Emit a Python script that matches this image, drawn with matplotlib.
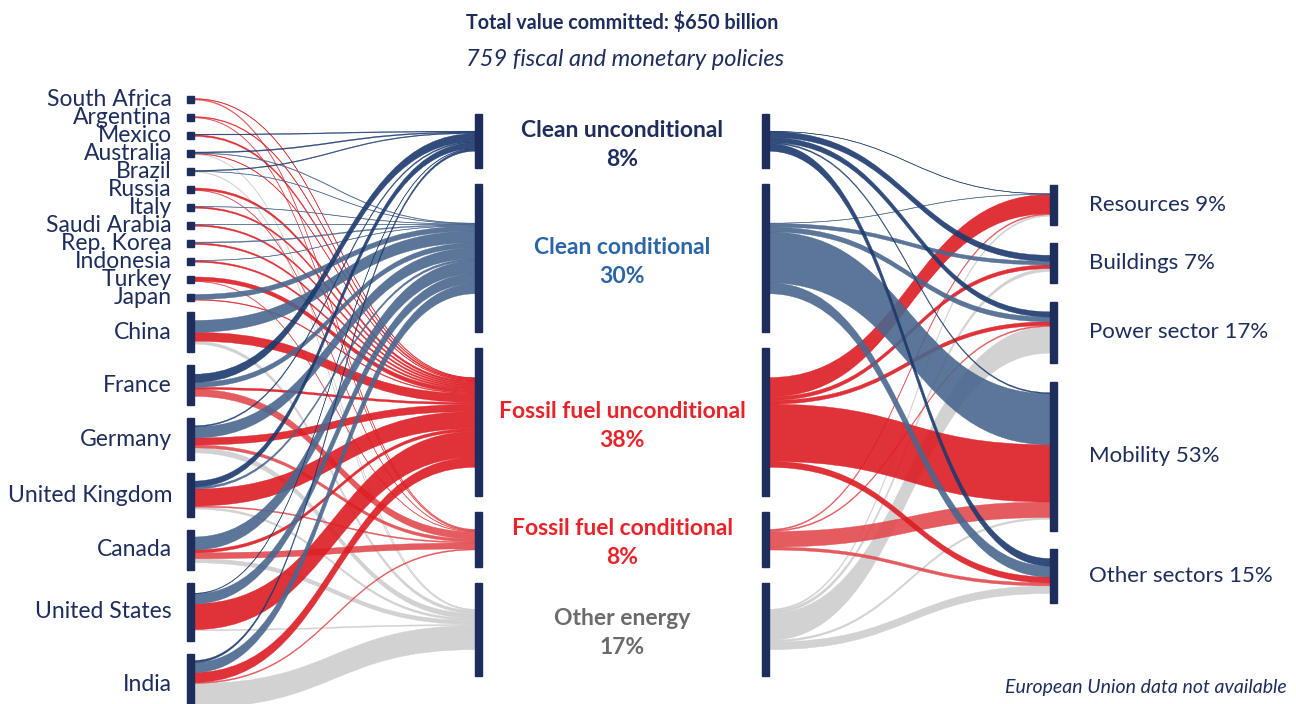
import numpy as np
import matplotlib.pyplot as plt
from matplotlib.path import Path
from matplotlib.patches import PathPatch, Rectangle

plt.rcParams['font.family'] = ['Lato', 'DejaVu Sans']

# ---- data (USD billion) ----
countries = ["South Africa", "Argentina", "Mexico", "Australia", "Brazil", "Russia", "Italy",
             "Saudi Arabia", "Rep. Korea", "Indonesia", "Turkey", "Japan",
             "China", "France", "Germany", "United Kingdom", "Canada", "United States", "India"]

clean_uncond = [0, 0, 2, 2.5, 2, 0, 0, 0, 0, 0, 0, 0, 0, 22, 3, 16, 0, 1.5, 5.5]
clean_cond = [0, 0, 0, 1.5, 1, 0, 1, 1, 2.5, 1, 0, 13.5, 32, 13.5, 30, 5.5, 35, 27, 27]
fossil_uncond = [1.5, 2, 4, 1.5, 0, 5.5, 4, 4, 4, 4, 11, 2, 24, 5.5, 19, 46, 8, 70, 27]
fossil_cond = [2.5, 1.5, 0, 0, 0, 1.5, 0, 0, 0, 0, 1.5, 0, 0, 19, 8, 3, 16, 0, 3]
other_energy = [0, 0, 0, 1.5, 2, 0, 0, 0, 0, 0, 0, 0, 8, 0, 13.5, 5.5, 11, 3, 65]

categories = ["Clean unconditional", "Clean conditional", "Fossil fuel unconditional",
              "Fossil fuel conditional", "Other energy"]
category_share = [8, 30, 38, 8, 17]

sectors = ["Resources", "Buildings", "Power sector", "Mobility", "Other sectors"]
sector_share = [9, 7, 17, 53, 15]

# category -> sector, each list in category order
to_resources = [1, 1, 52, 3, 4]
to_buildings = [16, 10, 10, 0, 8]
to_power = [14, 13, 10, 3, 72]
to_mobility = [3, 138, 155, 42, 5]
to_other = [20.5, 29.5, 16, 8, 20.5]

# ---- style ----
NAVY = "#1d2d5c"
flow_colors = ["#1b3a6e", "#4a678e", "#dd1c23", "#e24a4e", "#d0d0d0"]
label_colors = ["#1f2d5c", "#2b65a8", "#e8232a", "#e8232a", "#6b6b6b"]
draw_order = [4, 3, 2, 1, 0]

W, H = 1296, 704
SCALE = 240 / 650.0  # px per $bn
BAR_W = 7

country_flows = np.array([clean_uncond, clean_cond, fossil_uncond, fossil_cond, other_energy]).T  # [country, cat]
sector_flows = np.array([to_resources, to_buildings, to_power, to_mobility, to_other])  # [sector, cat]

fig = plt.figure(figsize=(W / 100, H / 100), dpi=100)
ax = fig.add_axes([0, 0, 1, 1])
ax.set_xlim(0, W)
ax.set_ylim(H, 0)
ax.axis("off")

x_country, x_mid_l, x_mid_r, x_sector = 187, 475, 762, 1050


def band(x0, y0, x1, y1, w, color, alpha):
    xm = (x0 + x1) / 2
    verts = [(x0, y0), (xm, y0), (xm, y1), (x1, y1), (x1, y1 + w),
             (xm, y1 + w), (xm, y0 + w), (x0, y0 + w), (x0, y0)]
    codes = [Path.MOVETO, Path.CURVE4, Path.CURVE4, Path.CURVE4, Path.LINETO,
             Path.CURVE4, Path.CURVE4, Path.CURVE4, Path.CLOSEPOLY]
    ax.add_patch(PathPatch(Path(verts, codes), facecolor=color, edgecolor=color,
                           lw=0.3, alpha=alpha, zorder=2))


def stack(top, heights, bottom):
    gap = (bottom - top - sum(heights)) / (len(heights) - 1)
    out, y = [], top
    for h in heights:
        out.append((y, y + h))
        y += h + gap
    return out


# ---- node layout ----
mid_h = [min(148, 20 + 4.3 * s) for s in category_share]
mid_nodes = stack(114, mid_h, 676)
sec_h = [float(np.clip(3.6 * s, 40, 149)) for s in sector_share]
sec_nodes = stack(185, sec_h, 603)

country_tot = country_flows.sum(axis=1)
country_nodes = []
y = 99.3
for i, tot in enumerate(country_tot):
    if tot < 20:
        country_nodes.append((y - 3.5, y + 3.5))
        y += 18
    else:
        if (country_nodes[-1][1] - country_nodes[-1][0]) < 10:
            top = country_nodes[-1][1] + 11.5
        else:
            top = country_nodes[-1][1] + 13
        h = float(np.clip(1.55 * tot * SCALE, 40, 60))
        country_nodes.append((top, top + h))


# ---- flow offsets ----
def starts(nodes, widths):
    res = []
    for (a, b), row in zip(nodes, widths):
        y0 = (a + b) / 2 - row.sum() / 2
        res.append(y0 + np.concatenate([[0], np.cumsum(row)[:-1]]))
    return np.array(res)


cf = country_flows * SCALE
sf = sector_flows * SCALE
c_out = starts(country_nodes, cf)            # [country, cat]
m_in = starts(mid_nodes, cf.T).T             # [country, cat]
m_out = starts(mid_nodes, sf.T)              # [cat, sector]
s_in = starts(sec_nodes, sf).T               # [cat, sector]

for k in draw_order:
    alpha = 0.95 if k == 4 else 0.9
    for i in range(len(countries)):
        if cf[i, k] > 0:
            band(x_country + BAR_W, c_out[i, k], x_mid_l, m_in[i, k], cf[i, k], flow_colors[k], alpha)
    for j in range(len(sectors)):
        if sf[j, k] > 0:
            band(x_mid_r + BAR_W, m_out[k, j], x_sector, s_in[k, j], sf[j, k], flow_colors[k], alpha)

# ---- node bars and labels ----
for name, (a, b) in zip(countries, country_nodes):
    ax.add_patch(Rectangle((x_country, a), BAR_W, b - a, color=NAVY, zorder=3))
    ax.text(172, (a + b) / 2, name, ha="right", va="center", fontsize=16.5, color=NAVY)

for k, (a, b) in enumerate(mid_nodes):
    for x in (x_mid_l, x_mid_r):
        ax.add_patch(Rectangle((x, a), BAR_W, b - a, color=NAVY, zorder=3))
    c = (a + b) / 2 + 3
    ax.text(622, c - 14, categories[k], ha="center", va="center", fontsize=16.5,
            fontweight="bold", color=label_colors[k])
    ax.text(622, c + 15, f"{category_share[k]}%", ha="center", va="center", fontsize=16.5,
            fontweight="bold", color=label_colors[k])

for j, (a, b) in enumerate(sec_nodes):
    ax.add_patch(Rectangle((x_sector, a), BAR_W, b - a, color=NAVY, zorder=3))
    ax.text(1089, (a + b) / 2, f"{sectors[j]} {sector_share[j]}%", ha="left", va="center",
            fontsize=16, color=NAVY)

ax.text(622, 22, "Total value committed: $650 billion", ha="center", va="center",
        fontsize=14.2, fontweight="bold", color=NAVY)
ax.text(625, 60, "759 fiscal and monetary policies", ha="center", va="center",
        fontsize=17, style="italic", color=NAVY)
ax.text(1287, 687, "European Union data not available", ha="right", va="center",
        fontsize=14, style="italic", color=NAVY)

fig.savefig("out.png", dpi=100, facecolor="white")
